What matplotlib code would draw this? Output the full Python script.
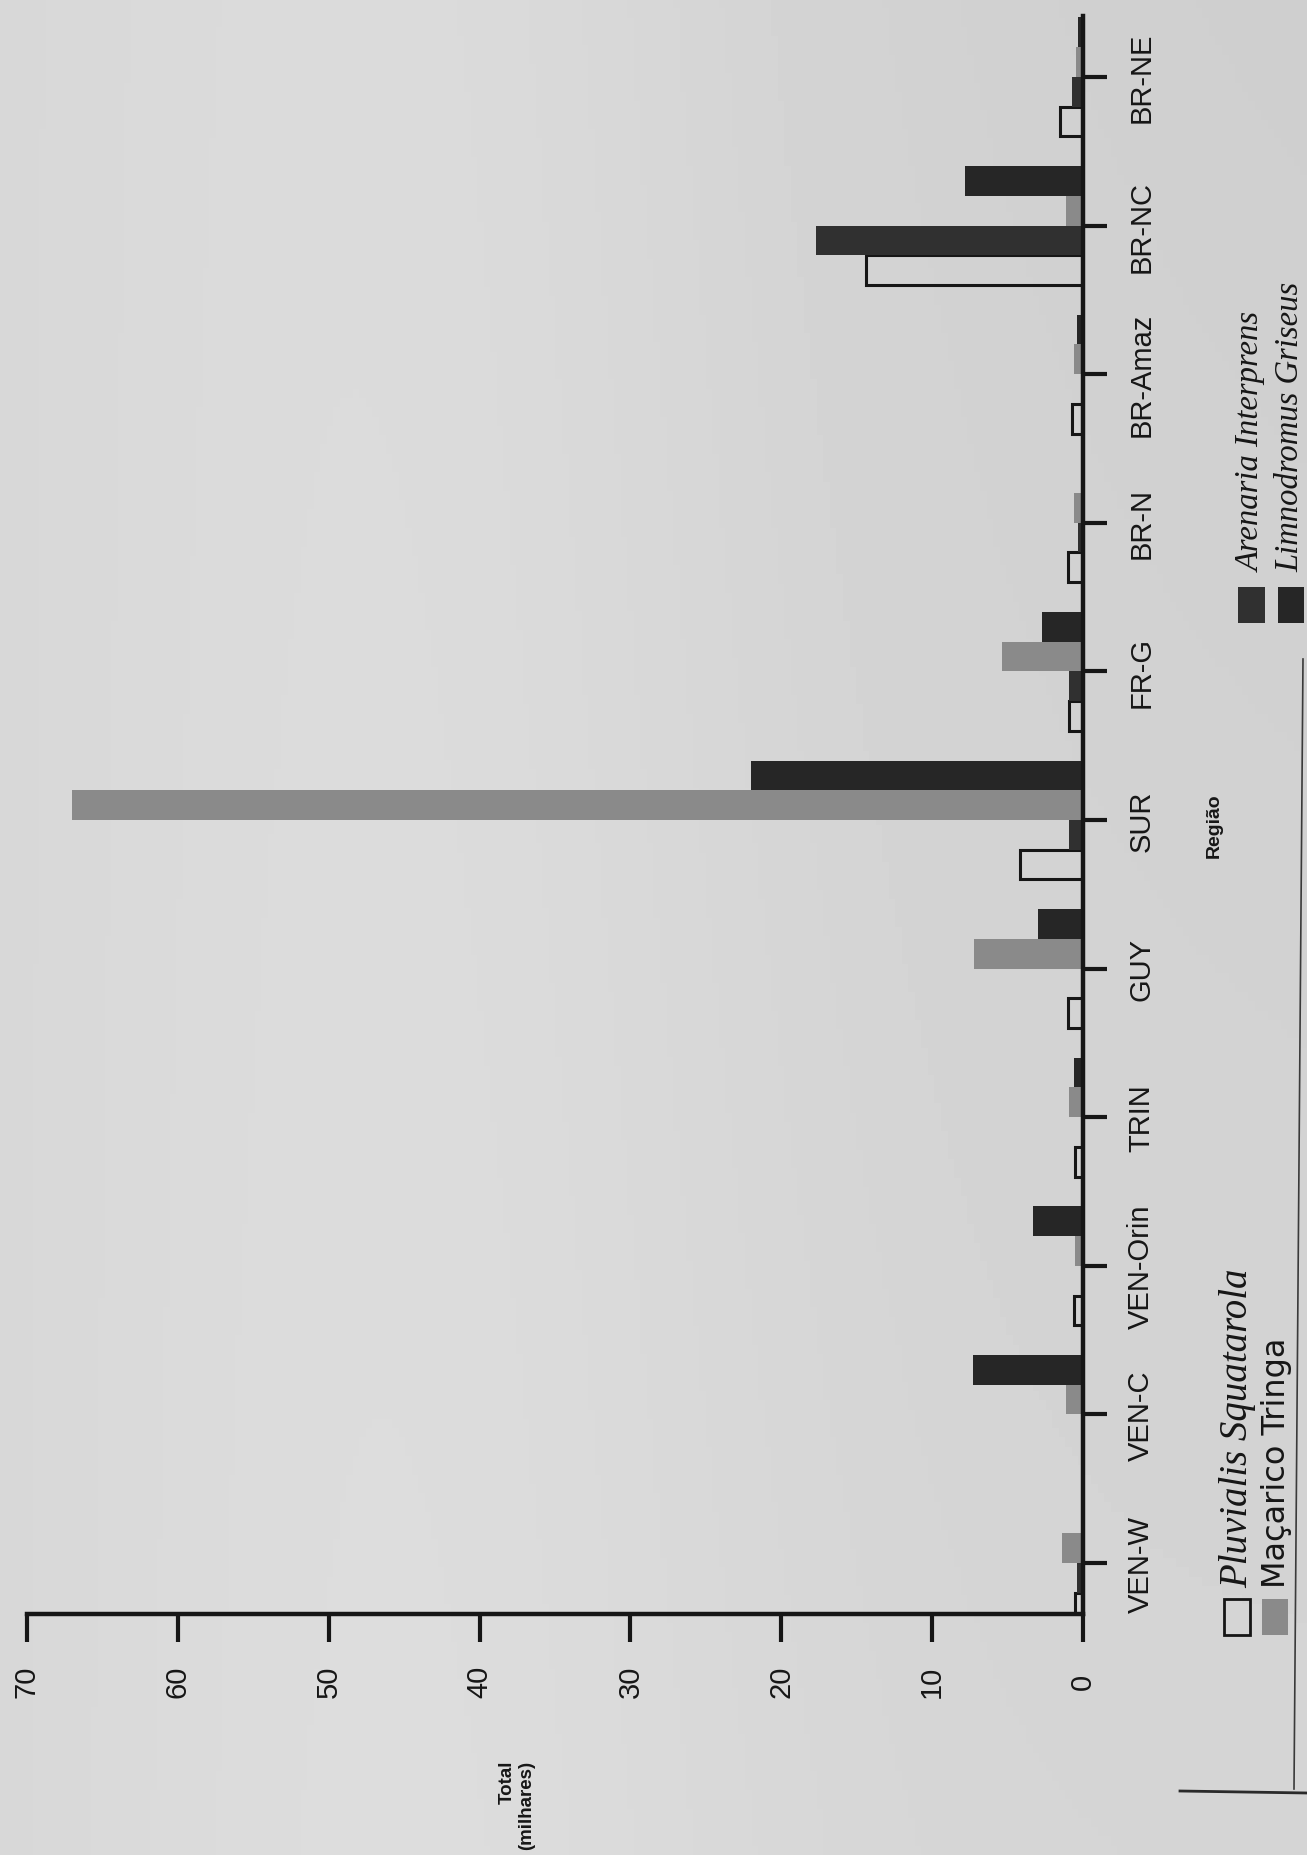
import matplotlib
matplotlib.use("Agg")
import matplotlib.pyplot as plt
from matplotlib.patches import Rectangle
from matplotlib.lines import Line2D
import numpy as np

W, H = 1307, 1856

# ---------------- data (thousands of birds) ----------------
categories = ["VEN-W", "VEN-C", "VEN-Orin", "TRIN", "GUY", "SUR",
              "FR-G", "BR-N", "BR-Amaz", "BR-NC", "BR-NE"]
pluvialis = [0.5, 0.0, 0.6, 0.5, 1.0, 4.2, 0.9, 1.0, 0.7, 14.4, 1.5]
arenaria = [0.4, 0.0, 0.0, 0.0, 0.0, 0.9, 0.9, 0.3, 0.0, 17.7, 0.7]
macarico = [1.4, 1.1, 0.5, 0.9, 7.2, 67.0, 5.4, 0.6, 0.6, 1.1, 0.45]
limnodromus = [0.0, 7.3, 3.3, 0.6, 3.0, 22.0, 2.7, 0.0, 0.4, 7.8, 0.3]
value_ticks = [0, 10, 20, 30, 40, 50, 60, 70]
series_names = ["Pluvialis Squatarola", "Arenaria Interprens",
                "Maçarico Tringa", "Limnodromus Griseus"]

paper = "#d5d5d3"
ink = "#161616"
c_gray = "#8a8a8a"
c_aren = "#303030"
c_limn = "#262626"

plt.rcParams["font.family"] = ["Liberation Sans", "DejaVu Sans"]

fig = plt.figure(figsize=(W / 100, H / 100), dpi=100)
fig.patch.set_facecolor(paper)

# subtle paper shading
bg = fig.add_axes([0, 0, 1, 1], zorder=0)
gx = np.linspace(0, 1, 200)
gy = np.linspace(0, 1, 200)
GX, GY = np.meshgrid(gx, gy)
shade = 0.835 + 0.03 * np.exp(-((GX - 0.3) / 0.3) ** 2) - 0.025 * GX * GY
bg.imshow(shade, cmap="gray", vmin=0, vmax=1, aspect="auto", extent=[0, 1, 0, 1],
          origin="lower")
bg.set_axis_off()

# main axes (chart is drawn rotated: values grow to the left)
ax_left, ax_right = 27, 1083
ax_top, ax_bot = 17, 1615
ax = fig.add_axes([ax_left / W, 1 - ax_bot / H, (ax_right - ax_left) / W,
                   (ax_bot - ax_top) / H], zorder=1)
ax.set_facecolor("none")

y = np.arange(len(categories))
bh = 0.2
ax.barh(y - 0.3, pluvialis, height=bh, color="none", edgecolor=ink, linewidth=2.2)
ax.barh(y - 0.1, arenaria, height=bh, color=c_aren, edgecolor="none")
ax.barh(y + 0.1, macarico, height=bh, color=c_gray, edgecolor="none")
ax.barh(y + 0.3, limnodromus, height=bh, color=c_limn, edgecolor="none")

ax.set_xlim(70, 0)
ax.set_ylim(-0.343, 10.41)

for s in ["top", "left"]:
    ax.spines[s].set_visible(False)
for s in ["bottom", "right"]:
    ax.spines[s].set_linewidth(3.2)
    ax.spines[s].set_color(ink)

ax.set_xticks(value_ticks)
ax.set_xticklabels([str(v) for v in value_ticks], rotation=90, fontsize=21, color=ink)
ax.tick_params(axis="x", direction="out", length=20, width=3, color=ink, pad=28)
for lab in ax.get_xticklabels():
    lab.set_va("center")

ax.yaxis.tick_right()
ax.set_yticks(y)
ax.set_yticklabels(categories, rotation=90, fontsize=21, color=ink)
ax.tick_params(axis="y", direction="out", length=17, width=3, color=ink, pad=25)
for lab in ax.get_yticklabels():
    lab.set_ha("center")
    lab.set_va("center")

# axis titles
fig.text(1214 / W, 1 - 826 / H, "Região", rotation=90, ha="center", va="center",
         fontsize=14, fontweight="bold", color=ink)
fig.text(517 / W, 1 - 1850 / H, "Total\n(milhares)", rotation=90, ha="center",
         va="bottom", multialignment="right", fontsize=13.5, fontweight="bold",
         color=ink, linespacing=1.15)

# legend, drawn rotated
def swatch(x0, y0, x1, y1, face, edge):
    fig.add_artist(Rectangle((x0 / W, 1 - y1 / H), (x1 - x0) / W, (y1 - y0) / H,
                             transform=fig.transFigure, facecolor=face,
                             edgecolor=edge, linewidth=2 if edge != "none" else 0,
                             zorder=3))

swatch(1224, 1600, 1250, 1636, "none", ink)
swatch(1262, 1600, 1288, 1636, c_gray, "none")
swatch(1238, 588, 1265, 624, c_aren, "none")
swatch(1278, 588, 1304, 624, c_limn, "none")

serif_it = dict(family=["Liberation Serif", "DejaVu Serif"], style="italic")
fig.text(1238 / W, 1 - 1588 / H, series_names[0], rotation=90, ha="center",
         va="bottom", fontsize=28, color=ink, **serif_it)
fig.text(1277 / W, 1 - 1588 / H, series_names[2], rotation=90, ha="center",
         va="bottom", fontsize=23, color=ink, family=["DejaVu Sans"])
fig.text(1252 / W, 1 - 572 / H, series_names[1], rotation=90, ha="center",
         va="bottom", fontsize=23.5, color=ink, **serif_it)
fig.text(1290 / W, 1 - 572 / H, series_names[3], rotation=90, ha="center",
         va="bottom", fontsize=23.5, color=ink, **serif_it)

# printed frame edges visible at the right / bottom of the photo
fig.add_artist(Line2D([1303 / W, 1294 / W], [1 - 660 / H, 1 - 1790 / H],
                      transform=fig.transFigure, color="#3a3a3a", linewidth=1.2))
fig.add_artist(Line2D([1180 / W, 1.0], [1 - 1792 / H, 1 - 1794 / H],
                      transform=fig.transFigure, color="#2a2a2a", linewidth=2.0))

fig.savefig("out.png", dpi=100, facecolor=fig.get_facecolor())
